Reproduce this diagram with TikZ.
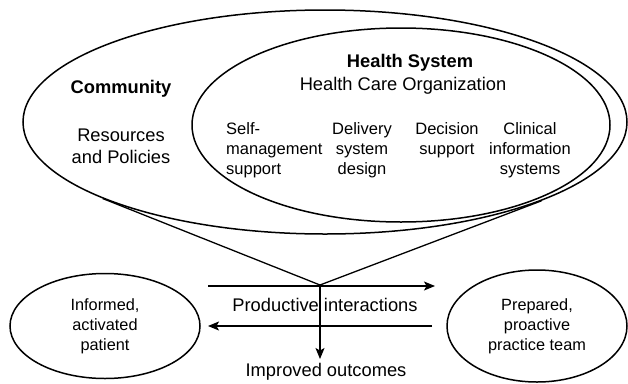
\documentclass[tikz,border=0pt]{standalone}
\usepackage{fontspec}
\setmainfont{Liberation Sans}
\usetikzlibrary{shapes.geometric,arrows.meta}

\begin{document}
\begin{tikzpicture}[x=1pt,y=-1pt]
    \useasboundingbox (0,0) rectangle (628,383);

    \begin{scope}[every node/.style={draw=black,ellipse,line width=1.5pt,inner sep=0pt,align=center,font=\fontsize{16.3}{20}\selectfont}]
        \node[minimum width=604pt,minimum height=224pt] (Comm) at (325,122) {};  % community
        \node[minimum width=418pt,minimum height=194pt] (HS) at (401,125) {};  % health system
        \node[minimum width=190pt,minimum height=105pt] (Pat) at (105,326) {Informed,\\activated\\patient};
        \node[minimum width=180pt,minimum height=112pt] (Team) at (537,326) {Prepared,\\proactive\\practice team};
    \end{scope}

    \begin{scope}[every node/.style={inner sep=0pt,font=\fontsize{18.3}{22}\selectfont}]
        \node[font=\fontsize{18.3}{22}\selectfont\bfseries] (T_Comm) at (121,89) {Community};
        \node[align=center] (T_Res) at (121,146) {Resources\\and Policies};

        \node[font=\fontsize{18.3}{22}\selectfont\bfseries] (T_HS) at (410,63) {Health System};
        \node (T_HCO) at (403,86) {Health Care Organization};

        \node (T_PI) at (325,305) {Productive interactions};
        \node (T_IO) at (326,372) {Improved outcomes};
    \end{scope}

    \begin{scope}[every node/.style={inner sep=0pt,font=\fontsize{16.5}{20}\selectfont}]
        \node[anchor=west,align=left] (C_1) at (226,150) {Self-\\management\\support};
        \node[align=center] (C_2) at (362,150) {Delivery\\system\\design};
        \node[align=center] (C_3) at (447,140) {Decision\\support};
        \node[align=center] (C_4) at (530,150) {Clinical\\information\\systems};
    \end{scope}

    \coordinate (Apex) at (320,285);
    \coordinate (Top_L) at (208,286);
    \coordinate (Top_R) at (435,286);
    \coordinate (Bot_R) at (432,326);
    \coordinate (Bot_L) at (208,326);
    \coordinate (Down) at (320,359);

    \begin{scope}[every edge/.style={draw=black,line width=1.3pt}]
        \path (Comm.199) edge (Apex);  % funnel
        \path (Apex) edge (Comm.340);
    \end{scope}

    \begin{scope}[line width=1.3pt,>={Stealth[length=11pt,width=9pt,inset=2.5pt]}]
        \draw[->] (Top_L) -- (Top_R);
        \draw[->] (Bot_R) -- (Bot_L);
        \draw[->] (Apex) -- (Down);
    \end{scope}
\end{tikzpicture}
\end{document}
